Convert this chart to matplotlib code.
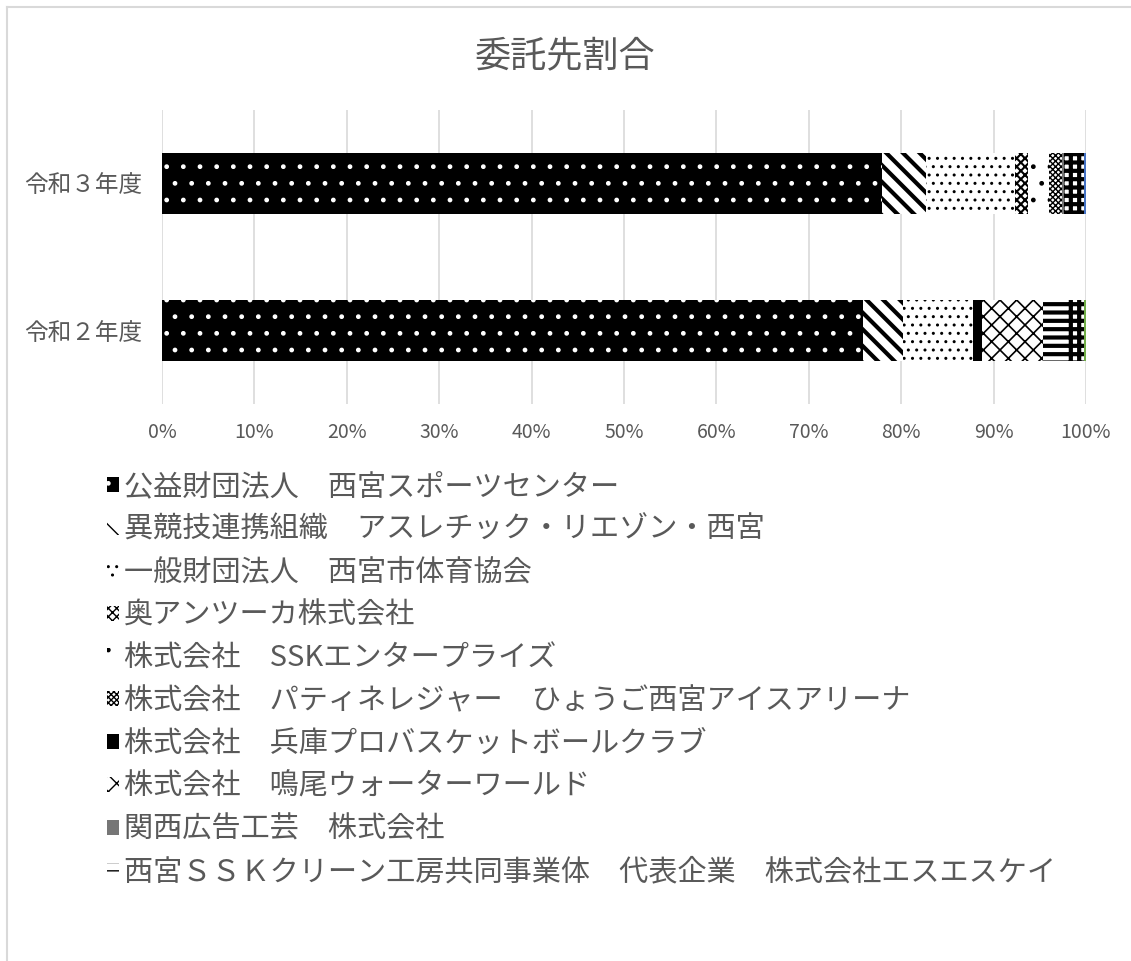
import numpy as np
import matplotlib
matplotlib.use("Agg")
import matplotlib.pyplot as plt
from matplotlib.lines import Line2D

plt.rcParams["font.family"] = ["Noto Sans CJK JP", "DejaVu Sans"]
plt.rcParams["hatch.linewidth"] = 1.0

TXT = "#595959"
GRID = "#d9d9d9"

years = ["令和２年度", "令和３年度"]   # y=0 下段, y=1 上段
xticks = np.arange(0, 101, 10)

# 委託先ごとの割合（%）[令和2, 令和3]
series = [
    ("公益財団法人　西宮スポーツセンター", [75.9, 77.9]),
    ("異競技連携組織　アスレチック・リエゾン・西宮", [4.3, 4.8]),
    ("一般財団法人　西宮市体育協会", [7.6, 9.6]),
    ("奥アンツーカ株式会社", [0.0, 1.4]),
    ("株式会社　SSKエンタープライズ", [0.0, 2.3]),
    ("株式会社　パティネレジャー　ひょうご西宮アイスアリーナ", [0.0, 1.4]),
    ("株式会社　兵庫プロバスケットボールクラブ", [0.9, 0.0]),
    ("株式会社　鳴尾ウォーターワールド", [6.6, 0.0]),
    ("関西広告工芸　株式会社", [0.0, 0.2]),
    ("西宮ＳＳＫクリーン工房共同事業体　代表企業　株式会社エスエスケイ", [2.6, 0.0]),
    ("その他A", [1.9, 2.2]),
    ("その他B", [0.0, 0.2]),
    ("その他C", [0.2, 0.0]),
]
N_LEGEND = 10

# (face, hatch colour, hatch, hatch linewidth)
styles = [
    ("black", "white", ".", 1.0),
    ("white", "black", "\\\\", 3.0),
    ("white", "black", "..", 1.0),
    ("white", "black", "xxxx", 1.5),
    ("white", "black", ".", 1.0),
    ("white", "black", "xxxxxx", 1.0),
    ("black", "black", "", 1.0),
    ("white", "black", "xx", 1.2),
    ("#767676", "#767676", "", 1.0),
    ("white", "black", "--", 3.0),
    ("white", "black", "++", 3.0),
    ("#4472c4", "#4472c4", "", 1.0),
    ("#70ad47", "#70ad47", "", 1.0),
]

fig = plt.figure(figsize=(11.31, 9.61), dpi=100)
ax = fig.add_axes([162 / 1131, 1 - 404 / 961, 924 / 1131, 294 / 961])

y = np.arange(len(years))
left = np.zeros(len(years))
handles = []
for (name, vals), (fc, hc, hatch, hlw) in zip(series, styles):
    vals = np.array(vals)
    with plt.rc_context({"hatch.linewidth": hlw}):
        bars = ax.barh(y, vals, left=left, height=0.41, color=fc,
                       edgecolor=hc, linewidth=0, hatch=hatch, label=name)
    for b in bars:
        if hasattr(b, "set_hatch_linewidth"):
            b.set_hatch_linewidth(hlw)
    handles.append(bars)
    left += vals

ax.set_xlim(0, 100)
ax.set_ylim(-0.5, 1.5)
ax.set_xticks(xticks)
ax.set_xticklabels([f"{v}%" for v in xticks], fontsize=14, color=TXT)
ax.set_yticks(y)
ax.set_yticklabels(years, fontsize=17, color=TXT)
ax.tick_params(axis="x", length=0, pad=13)
ax.tick_params(axis="y", length=0, pad=14)
for s in ax.spines.values():
    s.set_visible(False)
ax.grid(axis="x", color=GRID, lw=1.2)
ax.set_axisbelow(True)

fig.text(0.5, 1 - 57 / 961, "委託先割合", ha="center", va="center",
         fontsize=26, color=TXT)

fig.legend(handles[:N_LEGEND], [s[0] for s in series[:N_LEGEND]],
           loc="upper left", bbox_to_anchor=(107 / 1131, 1 - 472 / 961),
           frameon=False, fontsize=21, labelcolor=TXT, borderpad=0,
           handlelength=0.42, handleheight=0.42, handletextpad=0.15,
           labelspacing=0.44, borderaxespad=0)

# 外枠
fig.add_artist(Line2D([7 / 1131, 7 / 1131], [0, 1 - 7 / 961], color=GRID,
                      lw=1.5, transform=fig.transFigure))
fig.add_artist(Line2D([7 / 1131, 1], [1 - 7 / 961, 1 - 7 / 961], color=GRID,
                      lw=1.5, transform=fig.transFigure))

fig.savefig("out.png", dpi=100, facecolor="white")
